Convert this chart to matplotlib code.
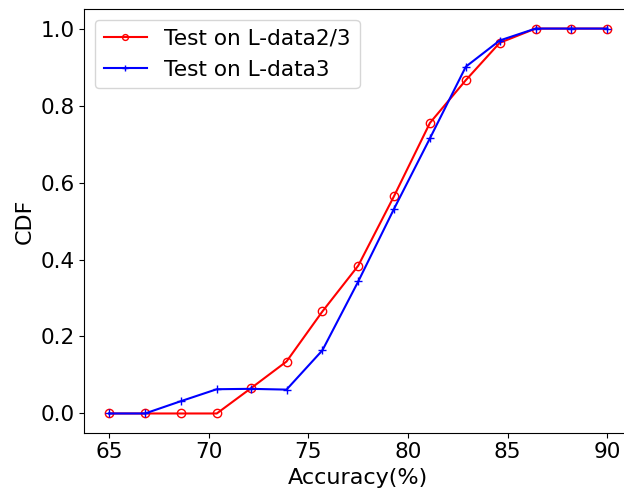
import matplotlib
matplotlib.use("Agg")
import matplotlib.pyplot as plt

# accuracy bins (%)
acc = [65.0, 66.8, 68.6, 70.4, 72.1, 73.9, 75.7, 77.5, 79.3, 81.1, 82.9, 84.6, 86.4, 88.2, 90.0]

cdf_l23 = [0.0, 0.0, 0.0, 0.0, 0.065, 0.135, 0.265, 0.384, 0.565, 0.755, 0.866, 0.963, 1.0, 1.0, 1.0]
cdf_l3 = [0.0, 0.0, 0.032, 0.063, 0.064, 0.062, 0.164, 0.343, 0.532, 0.715, 0.901, 0.969, 1.0, 1.0, 1.0]

fig = plt.figure(figsize=(6.24, 4.91), dpi=100)
# right spine sits just past the image edge, as in the original
ax = fig.add_axes([0.1351, 0.1187, 0.878, 0.8623])

ax.plot(acc, cdf_l23, color="red", marker="o", markerfacecolor="none",
        markersize=6, label="Test on L-data2/3")
ax.plot(acc, cdf_l3, color="blue", marker="+", markersize=6,
        label="Test on L-data3")

ax.set_xlabel("Accuracy(%)", fontsize=16)
ax.set_ylabel("CDF", fontsize=16)
ax.tick_params(labelsize=15.5)
ax.set_xticks([65, 70, 75, 80, 85, 90])
ax.set_yticks([0.0, 0.2, 0.4, 0.6, 0.8, 1.0])
ax.legend(loc="upper left", fontsize=15.6, markerscale=0.7)

fig.savefig("out.png", dpi=100)
